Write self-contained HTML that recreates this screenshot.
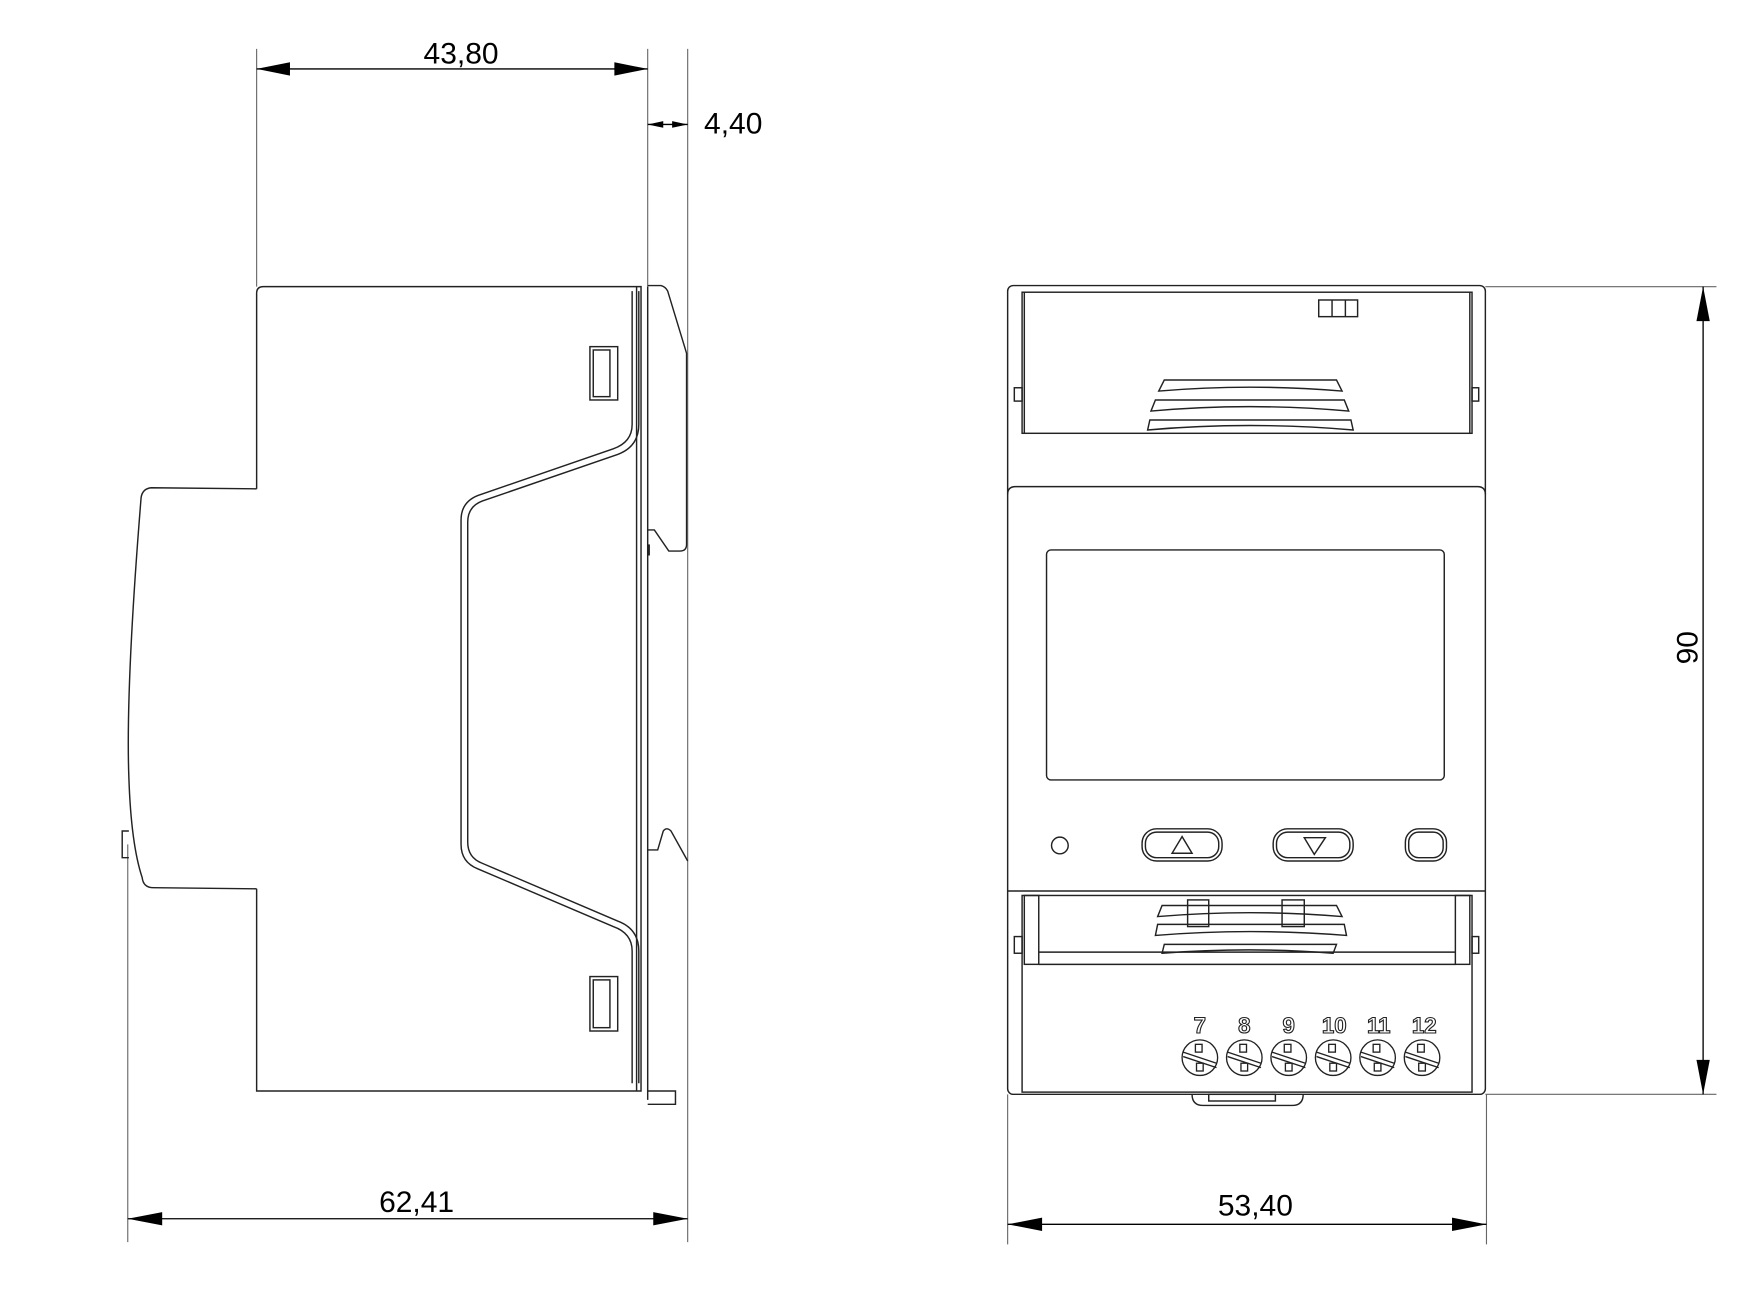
<!DOCTYPE html>
<html><head><meta charset="utf-8"><style>html,body{margin:0;padding:0;background:#fff}svg{display:block}</style></head>
<body>
<svg width="1742" height="1294" viewBox="0 0 1568 1164.7" xmlns="http://www.w3.org/2000/svg" font-family="Liberation Sans, sans-serif">
<g fill="none" stroke="#222" stroke-width="1.3">
<g stroke="#666" stroke-width="1">
<line x1="231" y1="44" x2="231" y2="258"/>
<line x1="583" y1="44" x2="583" y2="258"/>
<line x1="619" y1="44" x2="619" y2="1118"/>
<line x1="115" y1="760" x2="115" y2="1118"/>
</g>
<path d="M231,440 L231,264 Q231,258 237,258 L577,258 L577,982 L231,982 L231,800"/>
<path d="M231,440 L136,439 Q128,440 127,448 Q113,620 116,700 Q118,760 128,790 Q129,799 138,799 L231,800"/>
<path d="M116,748 L110,748 L110,772 L116,772"/>
<line x1="573" y1="258" x2="573" y2="982"/>
<line x1="583" y1="258" x2="583" y2="990"/>
<path d="M583,257 L595,257 Q599,258 601,262 L618,318 L618,490 Q618,496 612,496 L602,496 L589,477 L583,477"/>
<path d="M583,765 L592,765 L597,748 Q600,744 604,748 L619,775"/>
<path d="M583,982 L608,982 L608,994 L583,994"/>
<line x1="584" y1="490" x2="584" y2="500" stroke-width="2"/>
<path d="M569,262 L569,382 Q569,398 552,404 L430,446 Q415,452 415,468 L415,760 Q415,776 430,782 L552,834 Q569,840 569,856 L569,975"/>
<path d="M575,262 L575,382 Q575,402 556,409 L434,451 Q421,456 421,470 L421,758 Q421,772 434,777 L556,829 Q575,836 575,856 L575,975"/>
<rect x="531" y="312" width="25" height="48"/>
<rect x="534" y="315" width="15" height="42"/>
<rect x="531" y="879" width="25" height="49"/>
<rect x="534" y="882" width="15" height="43"/>
</g>
<g stroke="#000" stroke-width="1.2">
<line x1="231" y1="62" x2="583" y2="62"/>
<line x1="583" y1="112" x2="619" y2="112"/>
<line x1="115" y1="1097" x2="619" y2="1097"/>
</g>
<g fill="#000">
<polygon points="231,62 261,56 261,68"/><polygon points="583,62 553,56 553,68"/>
<polygon points="583,112 597,109 597,115"/><polygon points="619,112 605,109 605,115"/>
<polygon points="115,1097 146,1091 146,1103"/><polygon points="619,1097 588,1091 588,1103"/>
</g>
<g font-size="27" fill="#000">
<text x="415" y="57" text-anchor="middle">43,80</text>
<text x="660" y="120" text-anchor="middle">4,40</text>
<text x="375" y="1091" text-anchor="middle">62,41</text>
<text x="1130" y="1094" text-anchor="middle">53,40</text>
<text x="0" y="0" transform="translate(1528,583) rotate(-90)" text-anchor="middle">90</text>
</g>
<g fill="none" stroke="#222" stroke-width="1.3">
<g stroke="#666" stroke-width="1">
<line x1="1337" y1="258" x2="1545" y2="258"/>
<line x1="1337" y1="985" x2="1545" y2="985"/>
<line x1="907" y1="985" x2="907" y2="1120"/>
<line x1="1338" y1="985" x2="1338" y2="1120"/>
</g>
<rect x="907" y="257" width="430" height="728" rx="5"/>
<rect x="920" y="263" width="405" height="127"/>
<line x1="922" y1="263" x2="922" y2="390"/><line x1="1323" y1="263" x2="1323" y2="390"/>
<rect x="913" y="349" width="7" height="12"/><rect x="1325" y="349" width="6" height="12"/>
<rect x="1187" y="270" width="35" height="15"/>
<line x1="1199" y1="270" x2="1199" y2="285"/><line x1="1211" y1="270" x2="1211" y2="285"/>
<path d="M1048,342 L1203,342 L1208,352 Q1125,345 1043,352 Z"/>
<path d="M1040,360 L1210,360 L1214,370 Q1125,362 1036,370 Z"/>
<path d="M1035,378 L1216,378 L1218,387 Q1125,379 1033,387 Z"/>
<path d="M907,445 Q907,438 914,438 L1330,438 Q1337,438 1337,445"/>
<rect x="942" y="495" width="358" height="207" rx="4"/>
<circle cx="954" cy="761" r="7.5"/>
<rect x="1028" y="746" width="72" height="29" rx="13"/>
<rect x="1031" y="749" width="66" height="23" rx="10"/>
<polygon points="1064,753 1055,768 1073,768"/>
<rect x="1146" y="746" width="72" height="29" rx="13"/>
<rect x="1149" y="749" width="66" height="23" rx="10"/>
<polygon points="1174,754 1193,754 1183,769"/>
<rect x="1265" y="746" width="37" height="29" rx="12"/>
<rect x="1268" y="749" width="31" height="23" rx="9"/>
<line x1="907" y1="802" x2="1337" y2="802"/>
<rect x="920" y="806" width="405" height="177"/>
<rect x="922" y="806" width="13" height="62"/><rect x="1310" y="806" width="13" height="62"/>
<line x1="935" y1="857" x2="1310" y2="857"/>
<line x1="935" y1="868" x2="1310" y2="868"/>
<rect x="913" y="843" width="7" height="15"/><rect x="1325" y="843" width="6" height="15"/>
<path d="M1046,815 L1203,815 L1208,825 Q1125,818 1042,825 Z"/>
<path d="M1042,832 L1210,832 L1212,842 Q1125,835 1040,842 Z"/>
<path d="M1048,850 L1203,850 L1200,858 Q1125,852 1046,858 Z"/>
<rect x="1069" y="810" width="19" height="24"/><rect x="1154" y="810" width="20" height="24"/>
<path d="M1073,985 Q1073,995 1083,995 L1163,995 Q1173,995 1173,985"/>
<rect x="1088" y="985" width="60" height="6"/>
</g>
<g fill="none" stroke="#222" stroke-width="1.2">
<g id="t"><circle cx="1080" cy="952" r="16"/><line x1="1065" y1="947" x2="1095" y2="957"/><line x1="1065" y1="951" x2="1095" y2="961"/><rect x="1076" y="940" width="6" height="7"/><rect x="1077" y="957" width="6" height="7"/></g>
<use href="#t" x="40"/><use href="#t" x="80"/><use href="#t" x="120"/><use href="#t" x="160"/><use href="#t" x="200"/>
</g>
<g font-size="20" fill="#fff" stroke="#222" stroke-width="1" text-anchor="middle" font-weight="bold">
<text x="1080" y="930">7</text><text x="1120" y="930">8</text><text x="1160" y="930">9</text><text x="1201" y="930">10</text><text x="1241" y="930">11</text><text x="1282" y="930">12</text>
</g>
<g stroke="#000" stroke-width="1.2">
<line x1="1533" y1="258" x2="1533" y2="985"/>
<line x1="907" y1="1102" x2="1338" y2="1102"/>
</g>
<g fill="#000">
<polygon points="1533,258 1527,289 1539,289"/><polygon points="1533,985 1527,954 1539,954"/>
<polygon points="907,1102 938,1096 938,1108"/><polygon points="1338,1102 1307,1096 1307,1108"/>
</g>
</svg>
</body></html>
